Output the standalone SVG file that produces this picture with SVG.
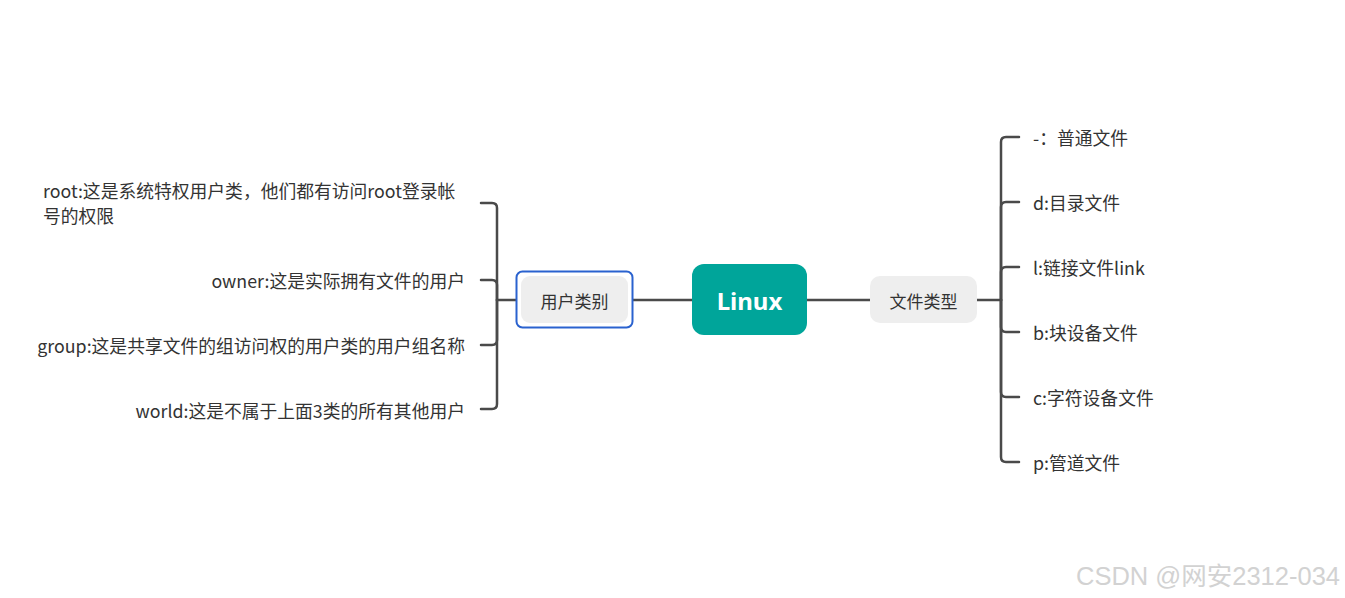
<svg xmlns="http://www.w3.org/2000/svg" width="1345" height="598" viewBox="0 0 1345 598">
<style>
.t{font-family:"Noto Sans CJK SC","Noto Sans",sans-serif;font-size:17.8px;fill:#333333}
.n{font-family:"Noto Sans CJK SC","Noto Sans",sans-serif;font-size:17px;fill:#333333}
.c{fill:none;stroke:#4a4a4a;stroke-width:2.5;stroke-linecap:round;stroke-linejoin:round}
</style>
<rect width="1345" height="598" fill="#ffffff"/>
<g id="connectors">
<path class="c" d="M632,300 H692"/>
<path class="c" d="M807,300 H870"/>
<path class="c" d="M516,300 H497"/>
<path class="c" d="M497,300 V208 Q497,203 492,203 H481"/>
<path class="c" d="M497,300 V285 Q497,280 492,280 H481"/>
<path class="c" d="M497,300 V340 Q497,345 492,345 H481"/>
<path class="c" d="M497,300 V404 Q497,409 492,409 H481"/>
<path class="c" d="M977,300 H1001"/>
<path class="c" d="M1001,300 V142 Q1001,137 1006,137 H1019"/>
<path class="c" d="M1001,300 V207 Q1001,202 1006,202 H1019"/>
<path class="c" d="M1001,300 V272 Q1001,267 1006,267 H1019"/>
<path class="c" d="M1001,300 V327 Q1001,332 1006,332 H1019"/>
<path class="c" d="M1001,300 V392 Q1001,397 1006,397 H1019"/>
<path class="c" d="M1001,300 V457 Q1001,462 1006,462 H1019"/>
</g>
<g id="linux">
<rect x="692" y="264" width="115" height="71" rx="12" fill="#00a59a"/>
<text x="749.5" y="310" text-anchor="middle" font-family="'Noto Sans','Noto Sans CJK SC',sans-serif" font-size="24" font-weight="bold" fill="#ffffff">Linux</text>
</g>
<g id="user-category">
<rect x="516.5" y="271.5" width="116" height="56" rx="6" fill="#ffffff" stroke="#2a62cf" stroke-width="2"/>
<rect x="521" y="276" width="107" height="47" rx="9" fill="#eeeeee"/>
<text class="n" x="574.5" y="308" text-anchor="middle">用户类别</text>
</g>
<g id="file-type">
<rect x="870" y="276" width="107" height="47" rx="10" fill="#eeeeee"/>
<text class="n" x="923.5" y="308" text-anchor="middle">文件类型</text>
</g>
<g id="root">
<text class="t" x="43" y="198">root:这是系统特权用户类，他们都有访问root登录帐</text>
<text class="t" x="43" y="223">号的权限</text>
</g>
<g id="owner"><text class="t" x="465" y="288" text-anchor="end">owner:这是实际拥有文件的用户</text></g>
<g id="group"><text class="t" x="465" y="353" text-anchor="end">group:这是共享文件的组访问权的用户类的用户组名称</text></g>
<g id="world"><text class="t" x="465" y="418" text-anchor="end">world:这是不属于上面3类的所有其他用户</text></g>
<g id="regular"><text class="t" x="1033" y="145">-：普通文件</text></g>
<g id="dir"><text class="t" x="1033" y="210">d:目录文件</text></g>
<g id="link"><text class="t" x="1033" y="275">l:链接文件link</text></g>
<g id="block"><text class="t" x="1033" y="340">b:块设备文件</text></g>
<g id="char"><text class="t" x="1033" y="405">c:字符设备文件</text></g>
<g id="pipe"><text class="t" x="1033" y="470">p:管道文件</text></g>
<text x="1340" y="585" text-anchor="end" font-family="'Liberation Sans','Noto Sans CJK SC',sans-serif" font-size="25.5" fill="#d2d2d2">CSDN @网安2312-034</text>
</svg>
